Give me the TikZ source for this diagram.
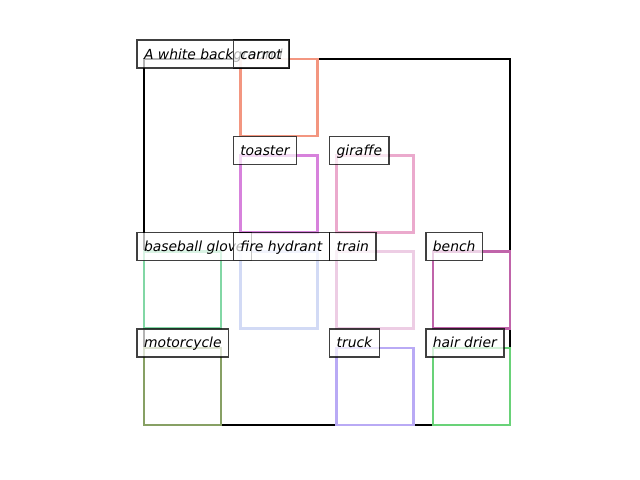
\documentclass[tikz,border=0pt]{standalone}
\usepackage{fontspec}
\setmainfont{DejaVu Sans}
\usepackage{tikz}
\newcommand{\defaultboxsize}{55.5pt}
\newcommand{\boxsize}{\defaultboxsize}
\definecolor{carrotcol}{HTML}{F39680}
\definecolor{toastercol}{HTML}{D782DC}
\definecolor{giraffecol}{HTML}{EBAACD}
\definecolor{glovecol}{HTML}{82D7A5}
\definecolor{hydrantcol}{HTML}{D2DAF5}
\definecolor{traincol}{HTML}{EDCDE4}
\definecolor{benchcol}{HTML}{C064AA}
\definecolor{motorcol}{HTML}{87A064}
\definecolor{truckcol}{HTML}{B9AAF5}
\definecolor{driercol}{HTML}{69D278}
\tikzstyle{bbox}=[draw, line width=1.8pt, inner sep=0, outer sep=0, minimum size=\boxsize, anchor=north west]
\tikzstyle{tag}=[anchor=base west, draw=black, draw opacity=0.75, fill=white, fill opacity=0.7, text opacity=1,
                 line width=1pt, inner xsep=5.04pt, inner ysep=0, outer sep=0,
                 % Fixed height of the label boxes.
                 text height=13.7pt, text depth=6.5pt, font=\itshape]
\tikzstyle{scene}=[x=0.72pt, y=-0.72pt]
\begin{document}
\begin{tikzpicture}[scene]
        \useasboundingbox (0, 0) rectangle (640, 480);
        \node[draw, line width=1.8pt, inner sep=0, outer sep=0, minimum size=263.5pt, anchor=north west] (bg) at (144, 59) {};
        \node[bbox, draw=carrotcol] (carrot) at (240.3, 59) {};
        \node[bbox, draw=toastercol] (toaster) at (240.3, 155.3) {};
        \node[bbox, draw=giraffecol] (giraffe) at (336.6, 155.3) {};
        \node[bbox, draw=glovecol] (glove) at (144, 251.6) {};
        \node[bbox, draw=hydrantcol] (hydrant) at (240.3, 251.6) {};
        \node[bbox, draw=traincol] (train) at (336.6, 251.6) {};
        \node[bbox, draw=benchcol] (bench) at (432.9, 251.6) {};
        \node[bbox, draw=motorcol] (motor) at (144, 347.9) {};
        \node[bbox, draw=truckcol] (truck) at (336.6, 347.9) {};
        \node[bbox, draw=driercol] (drier) at (432.9, 347.9) {};
        \node[tag] (bg label) at (137, 59) {A white background};
        \node[tag] (carrot label) at (233.3, 59) {carrot};
        \node[tag] (toaster label) at (233.3, 155.3) {toaster};
        \node[tag] (giraffe label) at (329.6, 155.3) {giraffe};
        \node[tag] (glove label) at (137, 251.6) {baseball glove};
        \node[tag] (hydrant label) at (233.3, 251.6) {fire hydrant};
        \node[tag] (train label) at (329.6, 251.6) {train};
        \node[tag] (bench label) at (425.9, 251.6) {bench};
        \node[tag] (motor label) at (137, 347.9) {motorcycle};
        \node[tag] (truck label) at (329.6, 347.9) {truck};
        \node[tag] (drier label) at (425.9, 347.9) {hair drier};
    \end{tikzpicture}
\end{document}
